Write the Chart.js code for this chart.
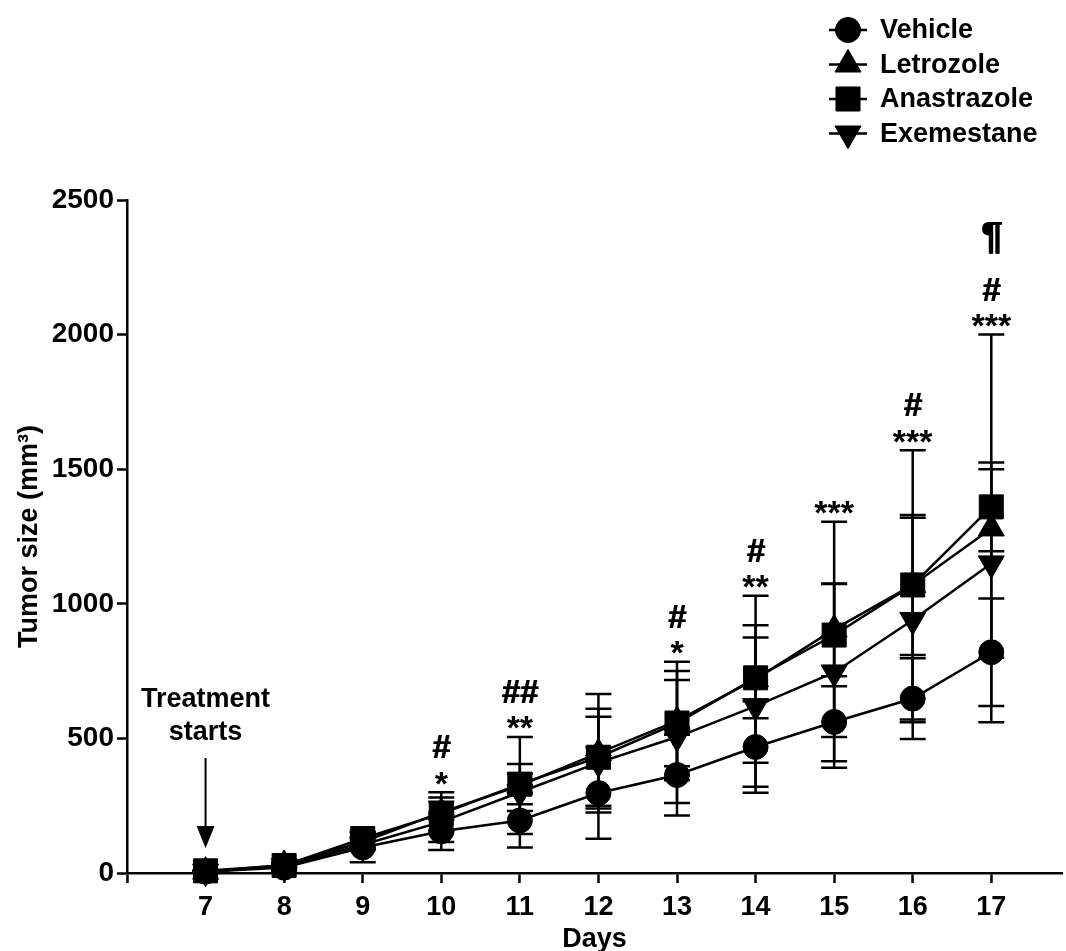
<!DOCTYPE html>
<html lang="en">
<head>
<meta charset="UTF-8">
<title>Tumor size</title>
<script src="https://cdn.jsdelivr.net/npm/chart.js@4"></script>
<style>
  body { margin: 0; background: #fff; }
  #wrap { width: 1066px; height: 951px; }
</style>
</head>
<body>
<div id="wrap"><canvas id="chart"></canvas></div>
<script>
// days after inoculation
const days = [7, 8, 9, 10, 11, 12, 13, 14, 15, 16, 17];

// mean tumor size (mm3) and SEM
const vehicle        = [5, 20, 95, 155, 195, 297, 364, 468, 561, 648, 820];
const vehicleSem     = [2, 8, 55, 70, 100, 170, 150, 170, 170, 150, 200];
const letrozole      = [5, 30, 115, 225, 325, 445, 565, 720, 905, 1070, 1280];
const letrozoleSem   = [2, 10, 20, 75, 180, 220, 220, 310, 400, 500, 720];
const anastrazole    = [8, 28, 128, 220, 330, 430, 557, 725, 884, 1070, 1360];
const anastrazoleSem = [2, 10, 25, 60, 75, 180, 160, 150, 190, 260, 165];
const exemestane     = [5, 25, 105, 190, 300, 410, 505, 620, 745, 940, 1150];
const exemestaneSem  = [2, 8, 20, 75, 70, 170, 245, 300, 330, 380, 350];

const yTicks = [0, 500, 1000, 1500, 2000, 2500];

// significance marks above each day
const sigDays  = [10, 11, 13, 14, 15, 16, 17];
const sigStars = ['*', '**', '*', '**', '***', '***', '***'];
const sigHash  = ['#', '##', '#', '#', '', '#', '#'];
const sigPara  = ['', '', '', '', '', '', '¶'];

const FONT = "Arial, 'Liberation Sans', sans-serif";
Chart.defaults.font.family = FONT;
Chart.defaults.color = '#000';

const series = [
  { label: 'Vehicle',     mean: vehicle,     sem: vehicleSem,     style: 'circle',   radius: 12.5, rot: 0,   order: 3 },
  { label: 'Letrozole',   mean: letrozole,   sem: letrozoleSem,   style: 'triangle', radius: 15,   rot: 0,   order: 1 },
  { label: 'Anastrazole', mean: anastrazole, sem: anastrazoleSem, style: 'rect',     radius: 17,   rot: 0,   order: 0 },
  { label: 'Exemestane',  mean: exemestane,  sem: exemestaneSem,  style: 'triangle', radius: 15,   rot: 180, order: 2 }
];

const datasets = series.map(s => ({
  label: s.label,
  data: days.map((d, i) => ({ x: d, y: s.mean[i] })),
  borderColor: '#000',
  backgroundColor: '#000',
  borderWidth: 2.5,
  pointStyle: s.style,
  pointRadius: s.radius,
  pointRotation: s.rot,
  pointBackgroundColor: '#000',
  pointBorderColor: '#000',
  pointBorderWidth: 1,
  tension: 0,
  clip: false,
  order: s.order
}));

const errorBars = {
  id: 'errorBars',
  beforeDatasetsDraw(chart) {
    const { ctx, scales: { x, y } } = chart;
    ctx.save();
    ctx.strokeStyle = '#000';
    ctx.lineWidth = 2.5;
    series.forEach(s => {
      days.forEach((d, i) => {
        const px = x.getPixelForValue(d);
        const top = y.getPixelForValue(s.mean[i] + s.sem[i]);
        const bot = y.getPixelForValue(Math.max(s.mean[i] - s.sem[i], 0));
        ctx.beginPath();
        ctx.moveTo(px, top); ctx.lineTo(px, bot);
        ctx.moveTo(px - 13, top); ctx.lineTo(px + 13, top);
        ctx.moveTo(px - 13, bot); ctx.lineTo(px + 13, bot);
        ctx.stroke();
      });
    });
    ctx.restore();
  }
};

const sigMarks = {
  id: 'sigMarks',
  afterDatasetsDraw(chart) {
    const { ctx, scales: { x, y } } = chart;
    ctx.save();
    ctx.fillStyle = '#000';
    ctx.textAlign = 'center';
    ctx.textBaseline = 'middle';
    sigDays.forEach((d, k) => {
      const i = days.indexOf(d);
      const top = Math.max(...series.map(s => s.mean[i] + s.sem[i]));
      const px = x.getPixelForValue(d);
      const cap = y.getPixelForValue(top);
      ctx.font = 'bold 34px ' + FONT;
      if (sigStars[k]) ctx.fillText(sigStars[k], px, cap - 7);
      ctx.font = 'bold 33px ' + FONT;
      if (sigHash[k]) {
        // double pass for a heavier hash like the original
        ctx.fillText(sigHash[k], px, cap - 43);
        ctx.fillText(sigHash[k], px + 1, cap - 43);
      }
      ctx.font = 'bold 38px ' + FONT;
      if (sigPara[k]) {
        ctx.fillText(sigPara[k], px, cap - 96);
        ctx.fillText(sigPara[k], px + 1.5, cap - 96);
      }
    });
    // treatment start arrow
    const tx = x.getPixelForValue(days[0]);
    const base = chart.chartArea.bottom;
    ctx.font = 'bold 27px ' + FONT;
    ctx.fillText('Treatment', tx, base - 173);
    ctx.fillText('starts', tx, base - 140);
    ctx.strokeStyle = '#000';
    ctx.lineWidth = 2;
    ctx.beginPath();
    ctx.moveTo(tx, base - 115);
    ctx.lineTo(tx, base - 40);
    ctx.stroke();
    ctx.beginPath();
    ctx.moveTo(tx - 9, base - 47);
    ctx.lineTo(tx + 9, base - 47);
    ctx.lineTo(tx, base - 25);
    ctx.closePath();
    ctx.fill();
    ctx.restore();
  }
};

const lineLegend = {
  id: 'lineLegend',
  afterDraw(chart) {
    const { ctx } = chart;
    const mx = chart.width - 218;
    ctx.save();
    ctx.fillStyle = '#000';
    ctx.strokeStyle = '#000';
    ctx.textAlign = 'left';
    ctx.textBaseline = 'middle';
    ctx.font = 'bold 27px ' + FONT;
    series.forEach((s, i) => {
      const ly = 30 + i * 34.5;
      ctx.lineWidth = 2.5;
      ctx.beginPath();
      ctx.moveTo(mx - 19, ly); ctx.lineTo(mx + 19, ly);
      ctx.stroke();
      ctx.lineWidth = 1;
      Chart.helpers.drawPoint(ctx, { pointStyle: s.style, radius: s.radius, rotation: s.rot, borderWidth: 1 }, mx, ly);
      ctx.fill();
      ctx.fillText(s.label, mx + 32, ly + 1);
    });
    ctx.restore();
  }
};

new Chart(document.getElementById('chart'), {
  type: 'line',
  data: { datasets },
  options: {
    responsive: true,
    maintainAspectRatio: false,
    animation: false,
    layout: { autoPadding: false, padding: { top: 200, right: 4, left: 0, bottom: 0 } },
    plugins: { legend: { display: false }, tooltip: { enabled: false } },
    scales: {
      x: {
        type: 'linear',
        min: 6,
        max: 17.9,
        afterFit(scale) {
          scale.height = 78;
          scale.paddingLeft = 0;
          scale.paddingRight = 0;
        },
        grid: { drawOnChartArea: false, drawTicks: true, tickLength: 10, tickWidth: 2.5, color: '#000' },
        border: { display: true, color: '#000', width: 2.5 },
        ticks: {
          stepSize: 1,
          includeBounds: false,
          padding: 8,
          maxRotation: 0,
          autoSkip: false,
          font: { size: 27, weight: 'bold' },
          callback: v => (v === 6 ? '' : String(v))
        },
        title: { display: true, text: 'Days', font: { size: 27, weight: 'bold' }, padding: { top: 0, bottom: -5 } }
      },
      y: {
        min: 0,
        max: 2500,
        afterFit(scale) { scale.width = 127; },
        afterBuildTicks(scale) { scale.ticks = yTicks.map(v => ({ value: v })); },
        grid: { drawOnChartArea: false, drawTicks: true, tickLength: 10, tickWidth: 2.5, color: '#000' },
        border: { display: true, color: '#000', width: 2.5 },
        ticks: { padding: 3, font: { size: 28, weight: 'bold' }, callback: v => String(v) },
        title: { display: true, text: 'Tumor size (mm³)', font: { size: 27, weight: 'bold' }, padding: { top: 13, bottom: 0 } }
      }
    }
  },
  plugins: [errorBars, sigMarks, lineLegend]
});
</script>
</body>
</html>
